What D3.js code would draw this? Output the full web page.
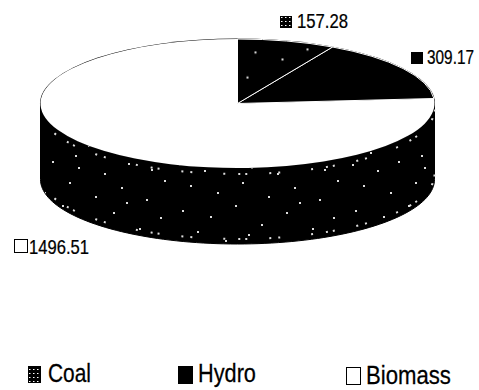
<!DOCTYPE html>
<html>
<head>
<meta charset="utf-8">
<script src="https://cdn.jsdelivr.net/npm/d3@7"></script>
<style>
html,body{margin:0;padding:0;background:#fff;}
text{font-family:"Liberation Sans",sans-serif;fill:#000;stroke:#000;stroke-width:0.25;}
</style>
</head>
<body>
<svg id="chart" width="479" height="390"></svg>
<script>
const categories = ["Coal", "Hydro", "Biomass"];
const values = [157.28, 309.17, 1496.51];
const valueLabels = ["157.28", "309.17", "1496.51"];

const svg = d3.select("#chart");
const cx = 237.5, cy = 103.5, rx = 197, ry = 64.5, depth = 76;
const flat = ry / rx;

const defs = svg.append("defs");

// Speckled black fill used for the coal wedge and the pie wall
const tileW = 173, tileH = 79;
const speckDots = [
  [6,6],[31,12],[52,3],[78,9],[104,15],[128,5],[151,11],
  [17,27],[44,34],[69,24],[95,38],[121,29],[146,41],[164,22],
  [9,52],[37,58],[62,47],[88,66],[113,54],[139,70],[160,59],
  [24,73],[75,76],[126,44]
];
const speckle = defs.append("pattern").attr("id", "speckle")
  .attr("patternUnits", "userSpaceOnUse").attr("width", tileW).attr("height", tileH);
speckle.append("rect").attr("width", tileW).attr("height", tileH).attr("fill", "#000");
speckle.selectAll("rect.dot").data(speckDots).join("rect").attr("class", "dot")
  .attr("x", d => d[0]).attr("y", d => d[1]).attr("width", 2).attr("height", 2).attr("fill", "#ddd");

// Same speckle, undoing the vertical flattening of the top face
defs.append("pattern").attr("id", "speckleFace").attr("href", "#speckle")
  .attr("patternTransform", `scale(1,${1 / flat})`);

// Small hatched swatch for the coal key
const hatch = defs.append("pattern").attr("id", "hatch")
  .attr("patternUnits", "userSpaceOnUse").attr("width", 4).attr("height", 4);
hatch.append("rect").attr("width", 4).attr("height", 4).attr("fill", "#000");
hatch.append("rect").attr("x", 1).attr("y", 1).attr("width", 1.5).attr("height", 1).attr("fill", "#fff");

const faceFills = d3.scaleOrdinal().domain(categories).range(["url(#speckleFace)", "#000", "#fff"]);
const swatchFills = d3.scaleOrdinal().domain(categories).range(["url(#hatch)", "#000", "#fff"]);

const pie = d3.pie().sort(null).value(d => d.value);
const slices = pie(categories.map((c, i) => ({ category: c, value: values[i], label: valueLabels[i] })));
const arc = d3.arc().innerRadius(0).outerRadius(rx);

// Pie wall: the visible front half of the ellipse swept down by the depth
const wallAngles = d3.range(90, 271, 2);
const wallX = a => cx + rx * Math.sin(a * Math.PI / 180);
const wallY = a => cy - ry * Math.cos(a * Math.PI / 180);
const wallLine = d3.line().x(d => wallX(d[0])).y(d => wallY(d[0]) + d[1]);
const wallPts = wallAngles.map(a => [a, 0]).concat(wallAngles.slice().reverse().map(a => [a, depth]));
svg.append("path").attr("d", wallLine(wallPts) + "Z")
  .attr("fill", "url(#speckle)").attr("stroke", "#000").attr("stroke-width", 1);

// Loose dotted runs just inside the wall's upper and lower rims
[6, depth - 5].forEach(offset => {
  svg.append("path").attr("d", wallLine(wallAngles.map(a => [a, offset])))
    .attr("fill", "none").attr("stroke", "#ddd").attr("stroke-width", 2)
    .attr("stroke-dasharray", "2 7 2 22 2 5 2 13 2 31");
});

// Thin outline round the top face
svg.append("ellipse").attr("cx", cx).attr("cy", cy)
  .attr("rx", rx + 0.5).attr("ry", ry + 0.5)
  .attr("fill", "#000");

// Top face
const face = svg.append("g").attr("transform", `translate(${cx},${cy}) scale(1,${flat})`);
face.selectAll("path").data(slices.slice().reverse()).join("path")
  .attr("d", arc)
  .attr("fill", d => faceFills(d.data.category))
  .attr("stroke", d => d.data.category === "Biomass" ? "none" : "#fff")
  .attr("stroke-width", 1)
  .attr("vector-effect", "non-scaling-stroke");

// Squeezes a text horizontally so that it spans the given width
function fitText(sel, layout) {
  sel.attr("transform", function (d, i) {
    const l = layout[i];
    return `translate(${l.textX},${l.base}) scale(${l.textW / this.getComputedTextLength()},1)`;
  });
}

// Value labels with their key squares
const labelLayout = [
  { x: 280, y: 27, box: 11, textX: 297, textW: 51, base: 28 },
  { x: 411, y: 63, box: 11, textX: 427, textW: 47, base: 64 },
  { x: 14, y: 252, box: 13, textX: 29, textW: 60, base: 254 }
];
const labels = svg.append("g").selectAll("g").data(slices).join("g");
labels.append("rect")
  .attr("x", (d, i) => labelLayout[i].x + 0.5)
  .attr("y", (d, i) => labelLayout[i].y - labelLayout[i].box + 0.5)
  .attr("width", (d, i) => labelLayout[i].box)
  .attr("height", (d, i) => labelLayout[i].box)
  .attr("fill", d => swatchFills(d.data.category))
  .attr("stroke", "#000");
labels.append("text")
  .attr("font-size", 20)
  .text(d => d.data.label)
  .call(fitText, labelLayout);

// Bottom key
const legendLayout = [
  { x: 28, w: 12, y: 366, h: 16, textX: 48, textW: 43, base: 382 },
  { x: 178, w: 14, y: 366, h: 17, textX: 198, textW: 58, base: 382 },
  { x: 346, w: 14, y: 367, h: 17, textX: 366, textW: 85, base: 384 }
];
const legend = svg.append("g").selectAll("g").data(categories).join("g");
legend.append("rect")
  .attr("x", (d, i) => legendLayout[i].x + 0.5)
  .attr("y", (d, i) => legendLayout[i].y + 0.5)
  .attr("width", (d, i) => legendLayout[i].w)
  .attr("height", (d, i) => legendLayout[i].h)
  .attr("fill", d => swatchFills(d))
  .attr("stroke", "#000");
legend.append("text")
  .attr("font-size", 25)
  .text(d => d)
  .call(fitText, legendLayout);
</script>
</body>
</html>
